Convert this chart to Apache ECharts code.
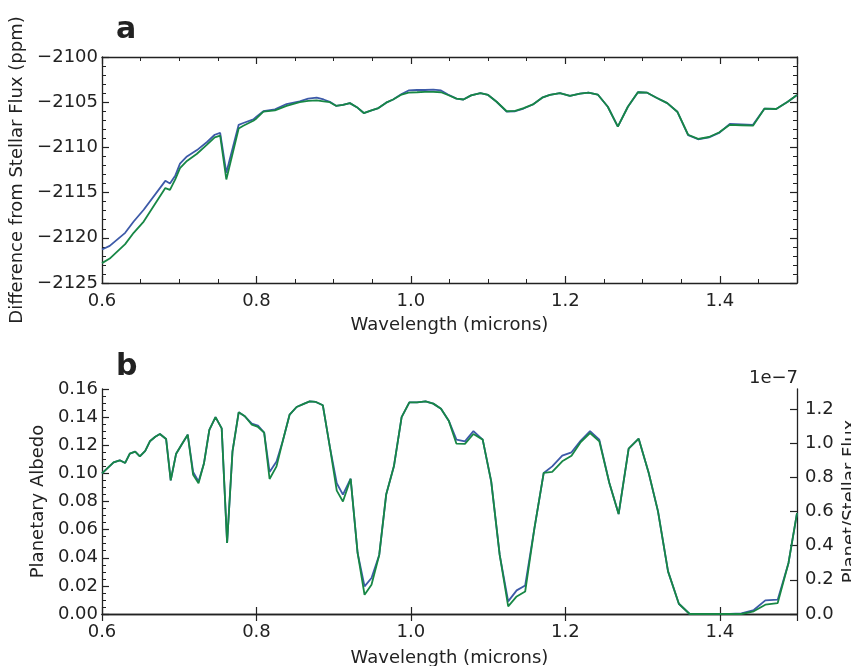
<!DOCTYPE html>
<html>
<head>
<meta charset="utf-8">
<style>
html,body{margin:0;padding:0;background:#fff;}
#chart{width:851px;height:666px;}
</style>
<script src="https://cdn.jsdelivr.net/npm/echarts@6/dist/echarts.min.js"></script>
</head>
<body>
<div id="chart"></div>
<script>
// ---- Panel a: difference from stellar flux (ppm) ----
var waveA = [0.600,0.610,0.630,0.641,0.654,0.682,0.688,0.695,0.701,0.710,0.723,0.736,0.746,0.753,0.761,0.777,0.783,0.796,0.800,0.809,0.824,0.839,0.856,0.867,0.878,0.887,0.895,0.903,0.912,0.921,0.930,0.939,0.949,0.958,0.968,0.977,0.988,0.997,1.008,1.018,1.029,1.039,1.048,1.059,1.068,1.078,1.090,1.100,1.111,1.124,1.135,1.146,1.158,1.170,1.180,1.193,1.206,1.219,1.230,1.242,1.255,1.268,1.281,1.294,1.306,1.318,1.332,1.345,1.359,1.372,1.386,1.399,1.413,1.428,1.443,1.458,1.473,1.488,1.500];
var diffBlue = [-2121.3,-2120.9,-2119.45,-2118.2,-2116.9,-2113.7,-2114.0,-2113.1,-2111.8,-2111.0,-2110.3,-2109.4,-2108.6,-2108.4,-2112.8,-2107.5,-2107.3,-2106.9,-2106.6,-2106.0,-2105.8,-2105.2,-2104.9,-2104.6,-2104.5,-2104.7,-2104.95,-2105.4,-2105.3,-2105.1,-2105.55,-2106.2,-2105.9,-2105.65,-2105.05,-2104.7,-2104.1,-2103.7,-2103.65,-2103.65,-2103.6,-2103.7,-2104.15,-2104.6,-2104.7,-2104.25,-2104.0,-2104.2,-2104.95,-2106.05,-2106.0,-2105.7,-2105.25,-2104.5,-2104.2,-2104.0,-2104.3,-2104.05,-2103.95,-2104.15,-2105.5,-2107.7,-2105.5,-2103.9,-2103.95,-2104.5,-2105.1,-2106.05,-2108.65,-2109.1,-2108.9,-2108.4,-2107.4,-2107.45,-2107.5,-2105.7,-2105.75,-2104.95,-2104.2];
var diffGreen = [-2122.8,-2122.3,-2120.7,-2119.45,-2118.2,-2114.5,-2114.7,-2113.5,-2112.3,-2111.5,-2110.7,-2109.7,-2108.9,-2108.7,-2113.55,-2107.9,-2107.6,-2107.05,-2106.8,-2106.05,-2105.9,-2105.4,-2105.0,-2104.85,-2104.8,-2104.9,-2105.0,-2105.4,-2105.3,-2105.1,-2105.55,-2106.2,-2105.9,-2105.65,-2105.05,-2104.7,-2104.15,-2103.95,-2103.9,-2103.85,-2103.85,-2103.9,-2104.2,-2104.6,-2104.7,-2104.25,-2104.0,-2104.2,-2104.95,-2106.0,-2105.95,-2105.65,-2105.25,-2104.5,-2104.2,-2104.0,-2104.3,-2104.05,-2103.95,-2104.15,-2105.5,-2107.7,-2105.5,-2103.9,-2103.95,-2104.5,-2105.1,-2106.05,-2108.6,-2109.05,-2108.85,-2108.35,-2107.5,-2107.55,-2107.6,-2105.7,-2105.75,-2104.95,-2104.2];

// ---- Panel b: planetary albedo ----
var waveB = [0.600,0.615,0.623,0.630,0.636,0.643,0.649,0.656,0.662,0.669,0.675,0.683,0.689,0.696,0.703,0.711,0.718,0.725,0.732,0.739,0.747,0.755,0.762,0.769,0.777,0.785,0.794,0.802,0.810,0.817,0.826,0.834,0.843,0.852,0.862,0.869,0.877,0.886,0.895,0.904,0.912,0.922,0.931,0.940,0.949,0.959,0.968,0.978,0.988,0.998,1.008,1.019,1.029,1.039,1.049,1.059,1.070,1.081,1.093,1.104,1.115,1.126,1.137,1.148,1.160,1.172,1.183,1.196,1.208,1.220,1.232,1.244,1.257,1.269,1.282,1.295,1.308,1.320,1.333,1.347,1.361,1.374,1.387,1.400,1.413,1.428,1.444,1.459,1.475,1.489,1.500];
var albedoBlue = [0.100,0.1078,0.1093,0.1074,0.114,0.1154,0.1121,0.116,0.1228,0.126,0.128,0.1245,0.095,0.114,0.1204,0.1275,0.101,0.0943,0.107,0.131,0.140,0.132,0.0505,0.1157,0.1434,0.1406,0.1353,0.134,0.129,0.101,0.1085,0.1228,0.1418,0.1472,0.1496,0.1512,0.1508,0.1484,0.119,0.093,0.0849,0.0962,0.0434,0.0196,0.0256,0.042,0.0849,0.105,0.140,0.1505,0.1505,0.1512,0.1496,0.146,0.1375,0.124,0.1228,0.130,0.124,0.0943,0.042,0.009,0.0168,0.0203,0.061,0.1003,0.105,0.1126,0.115,0.1233,0.130,0.124,0.0932,0.0711,0.1176,0.1247,0.1003,0.073,0.0303,0.0073,0.0,0.0,0.0,0.0,0.0,0.0005,0.0028,0.0097,0.0102,0.0363,0.0718];
var albedoGreen = [0.100,0.1078,0.1093,0.1074,0.114,0.1154,0.1121,0.116,0.1228,0.126,0.128,0.1245,0.095,0.114,0.1204,0.1275,0.099,0.093,0.107,0.131,0.140,0.132,0.0505,0.1157,0.1434,0.1406,0.1346,0.133,0.129,0.096,0.105,0.1228,0.1418,0.1472,0.1496,0.1512,0.1508,0.1484,0.119,0.0877,0.080,0.0962,0.0434,0.0137,0.0208,0.042,0.0849,0.105,0.140,0.1505,0.1505,0.1512,0.1496,0.146,0.1375,0.1211,0.121,0.128,0.124,0.0943,0.042,0.0054,0.0125,0.016,0.061,0.1003,0.101,0.1086,0.1126,0.1223,0.1287,0.1228,0.0932,0.0711,0.1176,0.1247,0.1003,0.073,0.0303,0.0073,0.0,0.0,0.0,0.0,0.0,0.0,0.0019,0.0066,0.0078,0.0363,0.0718];

// ---- Axis settings ----
var waveMin = 0.6, waveMax = 1.5, waveStep = 0.2;
var diffMin = -2125, diffMax = -2100, diffStep = 5;
var albMin = 0, albMax = 0.16, albStep = 0.02;
var fluxPerAlbedo = 8.2292;   // right axis (units of 1e-7) per unit albedo
var fluxStep = 0.2;

var BLUE = '#3d5aa8', GREEN = '#178745', INK = '#222222';
var FONT = 'DejaVu Sans';

function pairs(xs, ys){ return xs.map(function(x,i){ return [x, ys[i]]; }); }
function minus(v){ return (v < 0 ? '\u2212' : '') + Math.abs(v); }

var lineAxis = {show:true, lineStyle:{color:INK, width:1.3}};
var majorTick = {show:true, inside:true, length:7, lineStyle:{color:INK, width:1.2}};
var minorTick = function(n){ return {show:true, splitNumber:n, length:4, lineStyle:{color:INK, width:1}}; };
var lbl = {color:INK, fontSize:18, fontFamily:FONT};

function xAx(grid, pos, withLabels, minorN, name, gap){
  return {
    type:'value', gridIndex:grid, position:pos, min:waveMin, max:waveMax, interval:waveStep,
    axisLine:lineAxis, axisTick:majorTick,
    minorTick: minorN ? minorTick(minorN) : {show:false},
    splitLine:{show:false},
    axisLabel: withLabels ? Object.assign({margin:9, showMaxLabel:false, formatter:function(v){return v.toFixed(1);}}, lbl) : {show:false},
    name: name || '', nameLocation:'middle', nameGap: gap || 0,
    nameTextStyle: lbl
  };
}

var option = {
  animation:false,
  backgroundColor:'#ffffff',
  grid:[
    {left:102, right:54, top:57, height:226, containLabel:false, outerBoundsMode:'none'},
    {left:102, right:54, top:389, height:225, containLabel:false, outerBoundsMode:'none'}
  ],
  xAxis:[
    xAx(0,'bottom',true,4,'Wavelength (microns)',33),
    xAx(0,'top',false,4),
    xAx(1,'bottom',true,0,'Wavelength (microns)',35),
    xAx(1,'top',false,0)
  ],
  yAxis:[
    {type:'value', gridIndex:0, position:'left', min:diffMin, max:diffMax, interval:diffStep,
     axisLine:lineAxis, axisTick:majorTick, minorTick:minorTick(5), splitLine:{show:false},
     axisLabel:Object.assign({margin:4, formatter:minus}, lbl),
     name:'Difference from Stellar Flux (ppm)', nameLocation:'middle', nameGap:70, nameRotate:90, nameTextStyle:lbl},
    {type:'value', gridIndex:0, position:'right', min:diffMin, max:diffMax, interval:diffStep,
     axisLine:lineAxis, axisTick:majorTick, minorTick:minorTick(5), splitLine:{show:false},
     axisLabel:{show:false}},
    {type:'value', gridIndex:1, position:'left', min:albMin, max:albMax, interval:albStep,
     axisLine:lineAxis, axisTick:majorTick, minorTick:minorTick(4), splitLine:{show:false},
     axisLabel:Object.assign({margin:4, formatter:function(v){return v.toFixed(2);}}, lbl),
     name:'Planetary Albedo', nameLocation:'middle', nameGap:54, nameRotate:90, nameTextStyle:lbl},
    {type:'value', gridIndex:1, position:'right', min:0, max:albMax*fluxPerAlbedo, interval:fluxStep,
     axisLine:lineAxis, axisTick:majorTick, minorTick:{show:false}, splitLine:{show:false},
     axisLabel:Object.assign({margin:8, showMaxLabel:false, formatter:function(v){return v.toFixed(1);}}, lbl),
     name:'Planet/Stellar Flux', nameLocation:'middle', nameGap:44, nameRotate:90, nameMoveOverlap:false, nameTextStyle:lbl}
  ],
  series:[
    {type:'line', xAxisIndex:0, yAxisIndex:0, data:pairs(waveA, diffBlue), showSymbol:false, symbol:'none',
     lineStyle:{color:BLUE, width:1.8}, itemStyle:{color:BLUE}, z:2},
    {type:'line', xAxisIndex:0, yAxisIndex:0, data:pairs(waveA, diffGreen), showSymbol:false, symbol:'none',
     lineStyle:{color:GREEN, width:1.8}, itemStyle:{color:GREEN}, z:3},
    {type:'line', xAxisIndex:2, yAxisIndex:2, data:pairs(waveB, albedoBlue), showSymbol:false, symbol:'none',
     lineStyle:{color:BLUE, width:1.8}, itemStyle:{color:BLUE}, z:2},
    {type:'line', xAxisIndex:2, yAxisIndex:2, data:pairs(waveB, albedoGreen), showSymbol:false, symbol:'none',
     lineStyle:{color:GREEN, width:1.8}, itemStyle:{color:GREEN}, z:3}
  ],
  graphic:[
    {type:'text', left:116, top:15, style:{text:'a', fill:'#222', font:'bold 30px "DejaVu Sans"'}},
    {type:'text', left:116, top:352, style:{text:'b', fill:'#222', font:'bold 30px "DejaVu Sans"'}},
    {type:'text', right:53, top:369, style:{text:'1e\u22127', fill:INK, font:'18px "DejaVu Sans"', textAlign:'right'}}
  ]
};

var chart = echarts.init(document.getElementById('chart'), null, {renderer:'canvas'});
chart.setOption(option);
</script>
</body>
</html>
